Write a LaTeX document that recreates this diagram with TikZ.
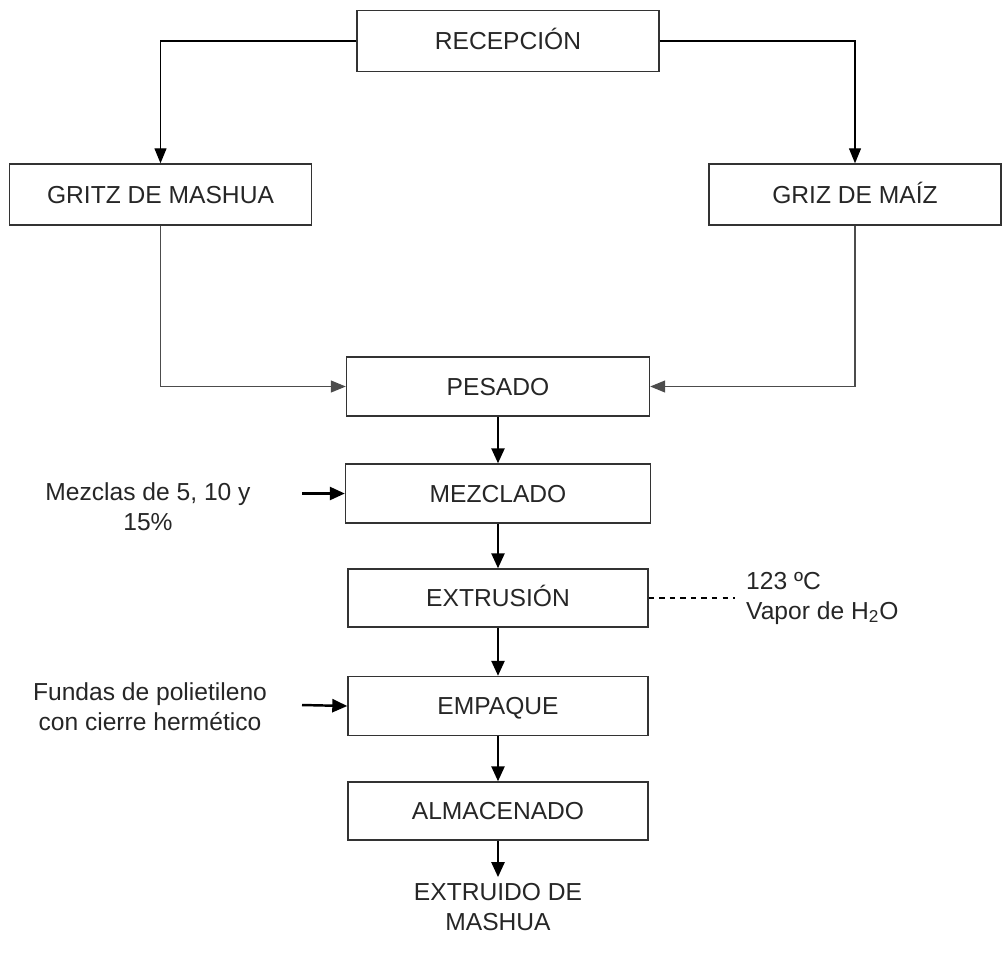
\documentclass[tikz,border=0pt]{standalone}
\usepackage{fontspec}
\setmainfont{Liberation Sans}
\usepackage{xcolor}
\usepackage{tikz}
\usetikzlibrary{shapes, arrows.meta, positioning, calc}

\begin{document}
\begin{tikzpicture}[
    font=\fontsize{14}{17}\selectfont,
    etapa/.style={draw=black!80, line width=0.8pt, minimum width=6cm, minimum height=1.18cm, text=black!85, text height=10pt, text depth=0pt},
    flecha/.style={line width=1.4pt, -{Triangle[length=3mm, width=2.6mm]}},
    linea/.style={line width=0.7pt, -{Triangle[length=3mm, width=2.4mm]}},
    nota/.style={align=center, text=black!85}
]
    % Picture frame
    \useasboundingbox (0,0) rectangle (20.1,-19.16);
    \def\xc{9.96}

    % Reception and raw materials
    \node[etapa, minimum width=6.04cm, minimum height=1.22cm] (rec) at (10.16,-0.82) {RECEPCIÓN};
    \node[etapa, minimum width=6.04cm, minimum height=1.22cm] (gritz) at (3.21,-3.89) {GRITZ DE MASHUA};
    \node[etapa, minimum width=5.84cm, minimum height=1.22cm] (griz) at (17.1,-3.89) {GRIZ DE MAÍZ};

    % Process steps
    \node[etapa, minimum width=6.06cm] (pesado) at (\xc,-7.73) {PESADO};
    \node[etapa, minimum width=6.1cm] (mezclado) at (\xc,-9.87) {MEZCLADO};
    \node[etapa, minimum height=1.16cm] (extrusion) at (\xc,-11.96) {EXTRUSIÓN};
    \node[etapa] (empaque) at (\xc,-14.12) {EMPAQUE};
    \node[etapa, minimum height=1.16cm] (almacenado) at (\xc,-16.22) {ALMACENADO};

    % Product
    \node[nota] (producto) at (\xc,-18.14) {EXTRUIDO DE\\MASHUA};

    % Side inputs
    \node[nota] (mezclas) at (2.96,-10.14) {Mezclas de 5, 10 y\\15\%};
    \node[nota] (fundas) at (3.0,-14.14) {Fundas de polietileno\\con cierre hermético};
    \coordinate (inM) at (6.04,-9.87);
    \coordinate (inE) at (6.04,-14.1);

    % Extrusion conditions
    \coordinate (cond) at (14.7,-11.96);
    \node[anchor=west, align=left, text=black!85] (vapor) at (14.8,-11.96) {123 ºC\\Vapor de H\textsubscript{2}O};

    % Connections from reception
    \draw[linea] (rec.west) -| (gritz.north);
    \draw[linea] (rec.east) -| (griz.north);
    \draw[linea, draw=black!70] (gritz.south) |- (pesado.west);
    \draw[linea, draw=black!70] (griz.south) |- (pesado.east);

    % Main flow
    \draw[flecha] (pesado) -- (mezclado);
    \draw[flecha] (mezclado) -- (extrusion);
    \draw[flecha] (extrusion) -- (empaque);
    \draw[flecha] (empaque) -- (almacenado);
    \draw[flecha] (almacenado) -- (producto);

    % Inputs
    \draw[flecha] (inM) -- (mezclado.west);
    \draw[flecha] (inE) -- (empaque.west);
    \draw[dashed, line width=0.6pt] (extrusion.east) -- (cond);
\end{tikzpicture}
\end{document}
